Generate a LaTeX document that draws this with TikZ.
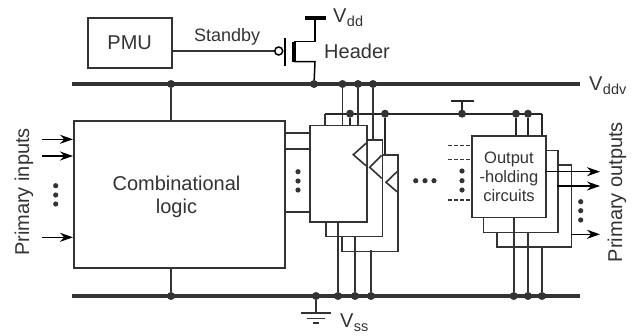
\documentclass[tikz,border=0pt]{standalone}
\usepackage{fontspec}
\setmainfont{Liberation Sans}
\definecolor{ink}{HTML}{333333}
\usetikzlibrary{arrows.meta}
\tikzset{
  x=1pt,y=-1pt,
  wire/.style={draw=ink,line width=1.6pt},
  blackwire/.style={draw=black!85,line width=1.6pt},
  rail/.style={draw=ink,line width=3.4pt},
  box/.style={draw=ink,line width=1.6pt,fill=white},
  joint/.style={circle,fill=ink,inner sep=0pt,minimum size=8pt},
  ell/.style={circle,fill=ink,inner sep=0pt,minimum size=5.2pt},
  arrowline/.style={draw=black,line width=1.5pt,-{Stealth[length=13pt,width=9pt]}},
  lbl/.style={text=ink,inner sep=0pt,font=\fontsize{20}{23}\selectfont},
  sub/.style={text=ink,inner sep=0pt,font=\fontsize{14.5}{16}\selectfont},
}
\begin{document}
\begin{tikzpicture}
\useasboundingbox (0,0) rectangle (636,335);
% rails
\coordinate (tl) at (72,84); \coordinate (tr) at (580,84);
\coordinate (bl) at (72,296); \coordinate (br) at (580,296);
\draw[rail] (tl) -- (tr);
\draw[rail] (bl) -- (br);
% joints on rails
\foreach \n/\x in {a/171,b/314,c/342.5,d/358,e/373}{\node[joint] (t\n) at (\x,84) {};}
\foreach \n/\x in {a/171,b/316,c/338,d/355,e/371,f/513.7,g/528,h/542}{\node[joint] (b\n) at (\x,296) {};}
% virtual standby rail
\coordinate (sl) at (325,113.7); \coordinate (sr) at (542,113.7);
\draw[blackwire] (sl) -- (sr);
\node[joint] (s1) at (350,113.7) {};
\node[joint] (s2) at (385,113.7) {};
\node[joint] (s3) at (462,113.7) {};
\node[joint] (s4) at (516,113.7) {};
\node[joint] (s5) at (528,113.7) {};
% tie
\coordinate (teetop) at (462,100.7);
\draw[blackwire] (s3) -- (teetop);
\draw[blackwire] (451,100.7) -- (474,100.7);
% PMU
\node[box,lbl,minimum width=84pt,minimum height=50pt] (pmu) at (129.7,43) {PMU};
% transistor
\node[circle,draw=black,line width=1.5pt,inner sep=0pt,minimum size=8pt,fill=white] (bub) at (278.7,51) {};
\draw[wire] (pmu.east |- bub) -- (bub);
\node[lbl,anchor=base west,font=\fontsize{18}{20}\selectfont] (stby) at (194,41) {Standby};
\draw[black,line width=1.5pt] (285,38) -- (285,66);
\draw[black,line width=3.4pt] (294,41.7) -- (294,61.7);
\coordinate (vdd) at (315,18);
\draw[black,line width=1.5pt] (294,41.7) -- (315,41.7) -- (vdd);
\draw[black,line width=3.4pt] (305,18) -- (326,18);
\draw[black,line width=1.5pt] (294,61.7) -- (315,61.7) -- (tb);
\node[lbl,anchor=base west] (vddt) at (333,22) {V};
\node[sub,anchor=base west,yshift=-4pt] (vdds) at (vddt.base east) {dd};
\node[lbl,anchor=base west] (hdr) at (324,58) {Header};
\node[lbl,anchor=base west] (vddv) at (589,90) {V};
\node[sub,anchor=base west,yshift=-4pt] (vddvs) at (vddv.base east) {ddv};
% combinational
\node[box,minimum width=211pt,minimum height=147pt,anchor=north west] (comb) at (73,120) {};
\node[lbl,align=center] (combt) at (176.5,197) {Combinational\\logic};
\draw[wire] (ta) -- (comb.north -| ta);
\draw[wire] (ba) -- (comb.south -| ba);
% inputs
\foreach \n/\y in {1/139.3,2/156,3/237.3}{
 \coordinate (in\n) at (42,\y);
 \draw[arrowline] (in\n) -- (comb.west |- in\n);}
\foreach \n/\y in {1/185.7,2/195,3/204}{\node[ell] (ie\n) at (55.7,\y) {};}
\node[lbl,rotate=90] (pi) at (24,192) {Primary inputs};
% flip flops
\node[box,anchor=north west,minimum width=56pt,minimum height=96.5pt] (ff3) at (341,154) {};
\node[box,anchor=north west,minimum width=56.7pt,minimum height=96.7pt] (ff2) at (325,139) {};
\node[box,anchor=north west,minimum width=57pt,minimum height=96.3pt] (ff1) at (309,124.7) {};
\draw[wire,fill=white] (366,143.3) -- (353.3,154.7) -- (366,165.7);
\draw[wire,fill=white] (381.7,155.3) -- (369.7,167.3) -- (381.7,178.3);
\draw[wire,fill=white] (397,171.7) -- (386,182.3) -- (397,191.7);
\foreach \y in {132.7,149,212}{\draw[wire] (284,\y) -- (309,\y);}
\foreach \n/\y in {1/171.7,2/181,3/190}{\node[ell] (ce\n) at (298,\y) {};}
\foreach \n/\x in {1/415.7,2/425,3/434}{\node[ell] (me\n) at (\x,180.7) {};}
\draw[wire] (tc) -- (342.5,124.7);
\draw[wire] (td) -- (358,124.7);
\draw[wire] (te) -- (373,139);
\draw[blackwire] (s2) -- (385,154);
\draw[blackwire] (s1) -- (350,124.7);
\draw[wire] (sl) -- (325,124.7);
\draw[wire] (338,221) -- (bc);
\draw[wire] (355,235.7) -- (bd);
\draw[wire] (371,250) -- (be);
% output holding
\node[box,anchor=north west,minimum width=74.7pt,minimum height=82pt] (oh3) at (496,164) {};
\node[box,anchor=north west,minimum width=74.3pt,minimum height=82pt] (oh2) at (482.7,149.7) {};
\node[box,anchor=north west,minimum width=74.3pt,minimum height=81.7pt,align=center,text=ink,inner sep=0pt,font=\fontsize{16.5}{19}\selectfont] (oh1) at (471,135) {Output\\-holding\\circuits};
\draw[blackwire] (s4) -- (516,135);
\draw[blackwire] (s5) -- (528,135);
\draw[blackwire] (sr) -- (542,135);
\draw[wire] (513.7,216.7) -- (bf);
\draw[wire] (528,231.7) -- (bg);
\draw[wire] (542,246) -- (bh);
\foreach \n/\y in {1/145.3,2/159.3,3/200}{
 \coordinate (di\n) at (448,\y);
 \draw[wire,dash pattern=on 4pt off 2pt] (di\n) -- (oh1.west |- di\n);}
\foreach \n/\y in {1/171,2/180.7,3/190}{\node[ell] (de\n) at (462,\y) {};}
\foreach \n/\x/\y in {1/545.3/171.7,2/557/186,3/570.7/234.3}{
 \coordinate (ost\n) at (\x,\y);
 \coordinate (oen\n) at (600,\y);
 \draw[arrowline] (ost\n) -- (oen\n);}
\foreach \n/\y in {1/201.7,2/210.7,3/220}{\node[ell] (oe\n) at (580.7,\y) {};}
\node[lbl,rotate=90] (po) at (617,192) {Primary outputs};
% ground
\coordinate (g1) at (316,313);
\draw[wire] (bb) -- (g1);
\draw[wire] (301,313) -- (331,313);
\draw[wire] (307,318.5) -- (325,318.5);
\draw[wire] (313,323) -- (319,323);
\node[lbl,anchor=base west] (vss) at (340,327.5) {V};
\node[sub,anchor=base west,yshift=-4pt] (vsss) at (vss.base east) {ss};
\end{tikzpicture}
\end{document}
